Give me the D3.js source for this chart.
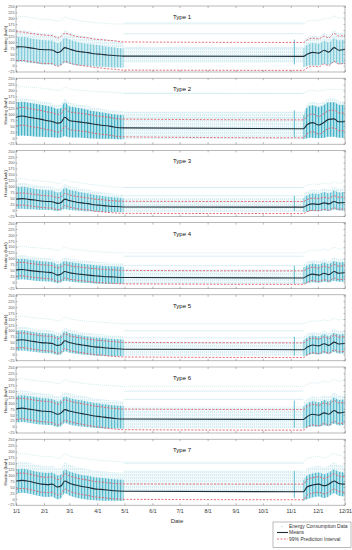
<!DOCTYPE html>
<html><head><meta charset="utf-8">
<script src="https://cdn.jsdelivr.net/npm/d3@7"></script>
<style>html,body{margin:0;padding:0;background:#fff;} svg{display:block;font-family:"Liberation Sans",Arial,sans-serif;}</style>
</head><body><svg id="c" width="352" height="550"></svg>
<script>
// ---------------- DATA ----------------
const typeNames = ["Type 1","Type 2","Type 3","Type 4","Type 5","Type 6","Type 7"];
const keyDates = ["1/1","1/8","1/15","1/22","1/29","2/5","2/10","2/16","2/20","2/24","3/1","3/8","3/15","3/22","3/29","4/5","4/12","4/19","4/30",
                  "11/15","11/19","11/25","12/2","12/8","12/13","12/19","12/24","12/31"];
const xTickLabels = ["1/1","2/1","3/1","4/1","5/1","6/1","7/1","8/1","9/1","10/1","11/1","12/1","12/31"];
const yTickValues = [-25,0,25,50,75,100,125,150,175,200,225,250];
const spikeDate = "11/5";

const meanValues = [
 [79,80,76,72,68,67,66,55,62,76,70,62,58,55,50,48,45,43,40, 39,48,56,53,65,57,76,65,68],
 [87,92,87,83,78,72,69,62,66,87,73,69,66,62,57,53,51,46,42, 38,55,64,54,66,78,80,68,68],
 [46,48,45,42,38,36,35,28,32,46,40,34,30,27,22,20,17,15,13, 12,20,26,24,30,26,36,30,32],
 [52,54,50,47,44,42,40,30,35,45,40,36,33,30,27,25,23,22,20, 18,26,34,30,38,32,45,38,40],
 [60,62,58,54,50,48,46,38,42,58,50,44,40,36,32,30,27,25,22, 20,30,40,36,45,38,52,44,46],
 [75,78,74,70,66,64,62,52,58,72,66,60,55,50,45,42,38,35,32, 30,42,52,48,58,52,68,58,62],
 [75,78,74,68,62,60,62,50,55,75,66,58,52,48,42,40,37,34,32, 30,50,58,62,55,62,75,65,62]
];
const upperPI = [
 [143,142,138,134,130,128,127,117,124,137,132,124,120,117,112,110,107,105,100, 98,108,116,113,125,117,136,125,128],
 [124,129,124,120,115,109,106,99,103,124,110,106,103,99,94,90,88,83,79, 76,92,101,91,103,115,117,105,105],
 [70,72,69,66,62,60,59,52,56,70,64,58,54,51,46,44,41,39,37, 36,44,50,48,54,50,60,54,56],
 [82,84,80,77,74,72,70,60,65,75,70,66,63,60,57,55,53,52,50, 48,56,64,60,68,62,75,68,70],
 [89,91,87,83,79,77,75,67,71,87,79,73,69,65,61,59,56,54,51, 49,59,69,65,74,67,81,73,75],
 [117,120,116,112,108,106,104,94,100,114,108,102,97,92,87,84,80,77,74, 72,84,94,90,100,94,110,100,104],
 [106,109,105,99,93,91,93,81,86,106,97,89,83,79,73,71,68,65,63, 62,81,89,93,86,93,106,96,93]
];
const lowerPI = [
 [21,22,18,14,10,9,8,-3,4,18,12,4,0,-3,-8,-10,-13,-15,-19, -20,-10,-2,-5,7,-1,18,7,10],
 [49,54,49,45,40,34,31,24,28,49,35,31,28,24,19,15,13,8,4, 0,17,26,16,28,40,42,30,30],
 [19,21,18,15,11,9,8,1,5,19,13,7,3,0,-5,-7,-10,-12,-14, -15,-7,-1,-3,3,-1,9,3,5],
 [25,27,23,20,17,15,13,3,8,18,13,9,6,3,0,-2,-4,-5,-7, -9,-1,7,3,11,5,18,11,13],
 [27,29,25,21,17,15,13,5,9,25,17,11,7,3,-1,-3,-6,-8,-11, -13,-3,7,3,12,5,19,11,13],
 [30,33,29,25,21,19,17,7,13,27,21,15,10,5,0,-3,-7,-10,-13, -15,-3,7,3,13,7,23,13,17],
 [41,44,40,34,28,26,28,16,21,41,32,24,18,14,8,6,3,0,-2, -4,16,24,28,21,28,41,31,28]
];
// dense part of the energy consumption data (per key date)
const dataTop = [
 [120,122,118,112,108,106,105,95,102,118,110,102,96,92,88,85,80,78,72, 72,88,96,92,105,98,116,106,110],
 [150,152,148,144,140,134,130,122,126,150,132,128,124,118,112,108,104,100,96, 92,128,138,130,140,150,150,140,140],
 [96,98,94,90,86,84,82,74,78,94,86,80,74,70,64,60,56,54,50, 50,62,70,68,76,70,82,74,76],
 [97,99,95,92,89,87,85,75,80,90,85,81,78,75,72,70,68,67,65, 63,71,79,75,83,77,90,83,85],
 [100,102,98,94,90,88,86,78,82,98,90,84,80,76,72,70,67,65,62, 60,70,80,76,85,78,92,84,86],
 [130,133,129,125,121,119,117,107,113,127,121,115,110,105,100,97,93,90,87, 85,97,107,103,113,107,123,113,117],
 [124,127,123,117,111,109,111,99,104,124,115,107,101,97,91,89,86,83,81, 79,99,107,111,104,111,124,114,111]
];
const dataBottom = [
 [15,16,12,10,6,5,5,-2,2,12,8,3,0,-2,-4,-5,-6,-8,-8, -8,-2,2,0,8,2,14,6,8],
 [8,10,8,6,4,2,2,0,1,8,2,1,0,-2,-3,-4,-4,-5,-6, -6,-2,0,-2,0,4,4,0,0],
 [4,5,3,2,0,0,-1,-4,-2,4,0,-2,-4,-5,-6,-7,-8,-8,-9, -9,-6,-4,-5,-2,-4,2,-2,-1],
 [10,12,9,6,4,3,2,-4,0,6,3,0,-2,-3,-5,-6,-7,-7,-8, -8,-4,0,-2,2,-1,6,2,3],
 [15,17,13,10,7,5,4,-2,1,13,7,3,0,-3,-5,-6,-7,-8,-8, -8,-4,2,0,5,1,10,4,5],
 [18,20,16,12,9,7,6,-2,3,15,9,4,0,-3,-5,-7,-8,-8,-9, -9,-4,2,0,6,2,12,5,8],
 [23,26,22,16,10,8,10,-2,3,23,14,6,0,-4,-6,-7,-8,-8,-9, -9,-2,6,10,3,10,23,13,10]
];
const outerTop = [
 [150,150,146,142,138,136,135,125,132,148,140,132,126,122,118,115,110,108,104, 104,118,128,124,138,130,148,138,142],
 [165,168,164,160,156,150,146,138,142,165,148,144,140,134,128,124,120,116,112, 110,140,152,146,156,165,168,156,156],
 [112,114,110,106,102,100,98,90,94,110,102,96,90,86,80,76,72,70,66, 66,78,86,84,92,86,98,90,92],
 [112,114,110,107,104,102,100,90,95,105,100,96,93,90,87,85,83,82,80, 78,86,94,90,98,92,105,98,100],
 [115,117,113,109,105,103,101,93,97,113,105,99,95,91,87,85,82,80,77, 75,85,95,91,100,93,107,99,101],
 [150,153,149,145,141,139,137,127,133,147,141,135,130,125,120,117,113,110,107, 105,117,127,123,133,127,143,133,137],
 [153,156,152,146,140,138,140,128,133,153,144,136,130,126,120,118,115,112,110, 108,128,136,140,133,140,153,143,140]
];
const maxLine = [
 [205,208,204,200,196,195,194,188,192,205,198,192,188,185,182,180,178,176,176, 176,186,192,190,200,196,210,202,206],
 [215,216,214,212,210,206,204,200,202,214,206,202,200,198,196,194,194,192,190, 188,196,200,198,202,204,206,204,204],
 [130,132,128,125,122,120,118,112,116,130,122,118,114,110,106,104,100,98,96, 96,104,110,108,114,110,120,114,116],
 [150,152,148,146,144,142,140,134,138,148,142,138,135,132,130,128,126,125,124, 124,130,136,134,140,136,148,140,142],
 [160,162,158,155,152,150,148,142,146,158,150,146,142,140,138,136,134,132,130, 130,136,142,140,146,142,152,146,148],
 [200,202,198,195,192,190,188,182,186,198,192,188,184,180,178,176,174,172,170, 170,178,186,184,192,188,200,192,196],
 [190,192,188,184,180,178,180,170,174,190,182,176,172,168,165,162,160,158,156, 156,170,176,180,174,180,192,184,180]
];
const summerBandTop    = [78, 108, 50, 55, 55, 85, 120];
const summerBandBottom = [12, -5, -8, -8, -5, -8, 30];
const summerLevels = [[180,135,75],[187,108,85],[95,60],[110,70],[100,70],[150,115],[150]];
const spikeTop    = [110, 116, 60, 70, 75, 110, 118];
const spikeBottom = [5, 2, -5, -5, -5, -5, 5];

// ---------------- STYLE / LAYOUT ----------------
const FONT = '"Liberation Sans", Arial, sans-serif';
const left = 16, right = 345;
const panelTop0 = 6, panelStep = 72.2, panelH = 66;
const denseOpacity = [0.6, 1, 0.8, 0.85, 0.8, 0.85, 0.9];
const cMean = "#1e2d38", cPI = "#e35d6a", cDense = "#45b2c7";

const parse = d3.timeParse("%m/%d/%Y");
const toDate = s => parse(s + "/2019");
const kd = keyDates.map(toDate);
const x = d3.scaleTime().domain([toDate("1/1"), toDate("12/31")]).range([left, right]);
const summerStart = toDate("4/30"), summerEnd = toDate("11/15");

const svg = d3.select("#c");
const defs = svg.append("defs");
const pat = defs.append("pattern").attr("id","stripes").attr("patternUnits","userSpaceOnUse")
  .attr("width",3).attr("height",4);
pat.append("rect").attr("width",3).attr("height",4).attr("fill","#b9e4ec");
pat.append("rect").attr("width",1.2).attr("height",4).attr("fill",cDense);
const pat2 = defs.append("pattern").attr("id","light").attr("patternUnits","userSpaceOnUse")
  .attr("width",2).attr("height",3);
pat2.append("rect").attr("width",2).attr("height",3).attr("fill","#f1f9fb");
pat2.append("rect").attr("width",1).attr("height",2).attr("fill","#d6eef3");

const segs = [d3.range(0,19), d3.range(19,28)];

typeNames.forEach((name, t) => {
  const top = panelTop0 + t * panelStep;
  const y = d3.scaleLinear().domain([-27, 252]).range([top + panelH, top]);
  const g = svg.append("g");
  defs.append("clipPath").attr("id","clip"+t).append("rect")
    .attr("x",left).attr("y",top).attr("width",right-left).attr("height",panelH);
  const p = g.append("g").attr("clip-path","url(#clip"+t+")");

  p.append("path").datum(d3.range(28))
    .attr("d", d3.line().x(i=>x(kd[i])).y(i=>y(maxLine[t][i])).curve(d3.curveMonotoneX))
    .attr("fill","none").attr("stroke","#d6ecf1").attr("stroke-width",1).attr("stroke-dasharray","1,1");

  p.append("rect").attr("x",x(summerStart)).attr("width",x(summerEnd)-x(summerStart))
    .attr("y",y(summerBandTop[t])).attr("height",y(summerBandBottom[t])-y(summerBandTop[t]))
    .attr("fill","url(#light)");
  summerLevels[t].forEach(v=>{
    p.append("line").attr("x1",x(summerStart)).attr("x2",x(summerEnd)).attr("y1",y(v)).attr("y2",y(v))
      .attr("stroke","#d3ebf0").attr("stroke-width",0.8);
  });

  segs.forEach(seg=>{
    p.append("path").datum(seg)
      .attr("d", d3.area().x(i=>x(kd[i])).y0(i=>y(dataBottom[t][i])).y1(i=>y(outerTop[t][i])).curve(d3.curveMonotoneX))
      .attr("fill","url(#light)");
    p.append("path").datum(seg)
      .attr("d", d3.area().x(i=>x(kd[i])).y0(i=>y(dataBottom[t][i])).y1(i=>y(dataTop[t][i])).curve(d3.curveMonotoneX))
      .attr("fill","url(#stripes)").attr("opacity",denseOpacity[t]);
  });
  const sd = toDate(spikeDate);
  p.append("rect").attr("x",x(sd)-0.6).attr("width",1.2).attr("y",y(spikeTop[t]))
    .attr("height",y(spikeBottom[t])-y(spikeTop[t])).attr("fill",cDense).attr("opacity",0.7);

  [upperPI, lowerPI].forEach(arr=>{
    p.append("path").datum(d3.range(28))
      .attr("d", d3.line().x(i=>x(kd[i])).y(i=>y(arr[t][i])).curve(d3.curveMonotoneX))
      .attr("fill","none").attr("stroke",cPI).attr("stroke-width",0.9).attr("stroke-dasharray","2,1.5");
  });
  p.append("path").datum(d3.range(28))
    .attr("d", d3.line().x(i=>x(kd[i])).y(i=>y(meanValues[t][i])).curve(d3.curveMonotoneX))
    .attr("fill","none").attr("stroke",cMean).attr("stroke-width",1.1);

  g.append("rect").attr("x",left).attr("y",top).attr("width",right-left).attr("height",panelH)
    .attr("fill","none").attr("stroke","#8a8a8a").attr("stroke-width",0.6);

  const tickDates = xTickLabels.map(toDate);
  const ax = (gen, tx, ty) => {
    const a = g.append("g").attr("transform",`translate(${tx},${ty})`).call(gen);
    a.select(".domain").remove();
    a.selectAll("line").attr("stroke","#777").attr("stroke-width",0.5);
    a.attr("font-family", FONT);
    return a;
  };
  const bx = ax(d3.axisBottom(x).tickValues(tickDates).tickSize(-2).tickPadding(4).tickFormat((d,i)=>xTickLabels[i]), 0, top+panelH);
  ax(d3.axisTop(x).tickValues(tickDates).tickSize(-2).tickFormat(""), 0, top);
  if (t < 6) bx.selectAll("text").remove();
  else bx.selectAll("text").attr("font-size",5.2).attr("fill","#333");
  const ly = ax(d3.axisLeft(y).tickValues(yTickValues).tickSize(-1.5).tickPadding(1.5), left, 0);
  ly.selectAll("text").attr("font-size",3.8).attr("fill","#555");
  ax(d3.axisRight(y).tickValues(yTickValues).tickSize(-1.5).tickFormat(""), right, 0);

  g.append("text").attr("transform",`translate(6.5,${top+panelH/2}) rotate(-90)`)
    .attr("text-anchor","middle").attr("font-size",4.3).attr("fill","#333").attr("font-family",FONT).text("Heating (kwh)");
  g.append("text").attr("x",173).attr("y",top+13).attr("font-size",6).attr("fill","#111").attr("font-family",FONT).text(name);
});

svg.append("text").attr("x",177).attr("y",523).attr("text-anchor","middle").attr("font-size",6).attr("fill","#333").attr("font-family",FONT).text("Date");

const lg = svg.append("g").attr("font-family",FONT);
lg.append("rect").attr("x",273).attr("y",522).attr("width",78).attr("height",25.5)
  .attr("fill","#fff").attr("stroke","#777").attr("stroke-width",0.5);
const legendRows = [527.8, 534, 540.5];
lg.append("circle").attr("cx",282).attr("cy",legendRows[0]-1.5).attr("r",0.6).attr("fill","#9fd6e2");
lg.append("line").attr("x1",277).attr("x2",288).attr("y1",legendRows[1]-1.5).attr("y2",legendRows[1]-1.5)
  .attr("stroke",cMean).attr("stroke-width",1.1);
lg.append("line").attr("x1",277).attr("x2",288).attr("y1",legendRows[2]-1.5).attr("y2",legendRows[2]-1.5)
  .attr("stroke",cPI).attr("stroke-width",0.9).attr("stroke-dasharray","2,1.5");
["Energy Consumption Data","Means","99% Prediction Interval"].forEach((s,i)=>{
  lg.append("text").attr("x",289).attr("y",legendRows[i]).attr("font-size",5).attr("fill","#333").text(s);
});
</script></body></html>
